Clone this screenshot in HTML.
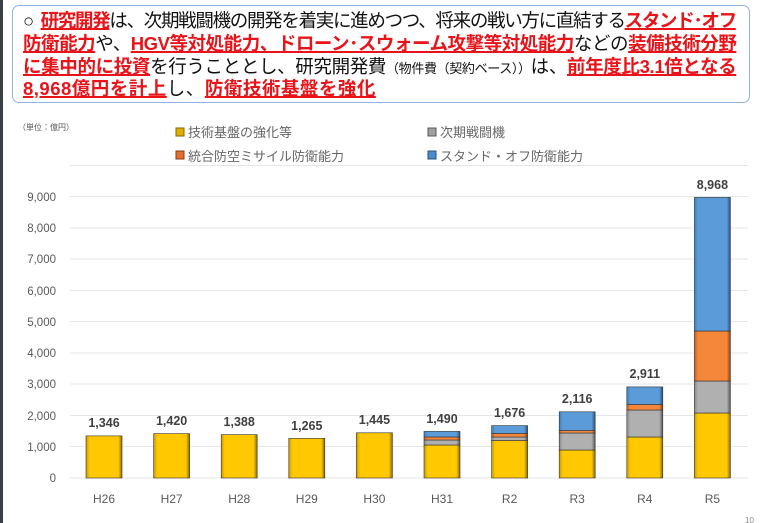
<!DOCTYPE html>
<html><head><meta charset="utf-8"><style>
html,body{margin:0;padding:0;background:#fff;}
body{width:760px;height:523px;position:relative;overflow:hidden;font-family:"Liberation Sans","Noto Sans CJK JP",sans-serif;}
.lb{position:absolute;left:0;top:0;width:3px;height:523px;background:#3a3f45;}
.box{position:absolute;left:12px;top:5px;width:738px;height:98px;border:1.5px solid #8fb4e0;border-radius:7px;box-sizing:border-box;}
.ln{position:absolute;left:23px;font-size:18.5px;line-height:22px;color:#111;white-space:nowrap;}
.r{color:#e8141a;font-weight:bold;text-decoration:underline;text-decoration-thickness:1.5px;}
.s{font-size:13px;}
svg{position:absolute;left:0;top:0;}
</style></head><body>
<div class="lb"></div>
<div class="box"></div>
<div class="ln" style="top:10px;letter-spacing:-1.3px">○&nbsp; <span class="r">研究開発</span>は、次期戦闘機の開発を着実に進めつつ、将来の戦い方に直結する<span class="r">スタンド･オフ</span></div>
<div class="ln" style="top:33px;letter-spacing:-0.45px"><span class="r">防衛能力</span>や、<span class="r">HGV等対処能力、ドローン･スウォーム攻撃等対処能力</span>などの<span class="r">装備技術分野</span></div>
<div class="ln" style="top:56px;letter-spacing:-0.35px"><span class="r">に集中的に投資</span>を行うこととし、研究開発費<span class="s">（物件費（契約ベース））</span>は、<span class="r">前年度比3.1倍となる</span></div>
<div class="ln" style="top:78px;letter-spacing:0.5px"><span class="r">8,968億円を計上</span>し、<span class="r">防衛技術基盤を強化</span></div>
<svg width="760" height="523" xmlns="http://www.w3.org/2000/svg" font-family="Liberation Sans, Noto Sans CJK JP, sans-serif">
<defs>
<linearGradient id="gy" x1="0" x2="1"><stop offset="0" stop-color="#c79a00"/><stop offset="0.1" stop-color="#ffc800"/><stop offset="0.9" stop-color="#ffc800"/><stop offset="1" stop-color="#8a6a00"/></linearGradient>
<linearGradient id="gg" x1="0" x2="1"><stop offset="0" stop-color="#8a8a8a"/><stop offset="0.1" stop-color="#b0b0b0"/><stop offset="0.9" stop-color="#b0b0b0"/><stop offset="1" stop-color="#555"/></linearGradient>
<linearGradient id="go" x1="0" x2="1"><stop offset="0" stop-color="#c85f1c"/><stop offset="0.1" stop-color="#f5873a"/><stop offset="0.9" stop-color="#f5873a"/><stop offset="1" stop-color="#8a3d10"/></linearGradient>
<linearGradient id="gb" x1="0" x2="1"><stop offset="0" stop-color="#3f7fc0"/><stop offset="0.1" stop-color="#5b9bd8"/><stop offset="0.9" stop-color="#5b9bd8"/><stop offset="1" stop-color="#2a4f7a"/></linearGradient>
</defs>
<text x="18" y="130" font-size="8" fill="#555">（単位：億円）</text>
<rect x="176" y="128" width="8" height="8" fill="#e0b000" stroke="#8a6a00" stroke-width="1"/><text x="188" y="137" font-size="13" fill="#666">技術基盤の強化等</text>
<rect x="176" y="151" width="8" height="8" fill="#e07030" stroke="#8a3d10" stroke-width="1"/><text x="188" y="161" font-size="13" fill="#666">統合防空ミサイル防衛能力</text>
<rect x="428" y="128" width="8" height="8" fill="#a0a0a0" stroke="#555" stroke-width="1"/><text x="440" y="137" font-size="13" fill="#666">次期戦闘機</text>
<rect x="428" y="151" width="8" height="8" fill="#4a8ad0" stroke="#2a4f7a" stroke-width="1"/><text x="440" y="161" font-size="13" fill="#666">スタンド・オフ防衛能力</text>
<g stroke="#e6e6e6" stroke-width="1">
<line x1="70" x2="748" y1="165.5" y2="165.5"/><line x1="70" x2="748" y1="196.5" y2="196.5"/><line x1="70" x2="748" y1="228" y2="228"/><line x1="70" x2="748" y1="259" y2="259"/><line x1="70" x2="748" y1="290.5" y2="290.5"/><line x1="70" x2="748" y1="321.5" y2="321.5"/><line x1="70" x2="748" y1="353" y2="353"/><line x1="70" x2="748" y1="384" y2="384"/><line x1="70" x2="748" y1="415.5" y2="415.5"/><line x1="70" x2="748" y1="446.5" y2="446.5"/><line x1="70" x2="748" y1="478" y2="478"/>
</g>
<g font-size="11.5" fill="#595959" text-anchor="end">
<text x="56" y="201">9,000</text><text x="56" y="232">8,000</text><text x="56" y="263">7,000</text><text x="56" y="295">6,000</text><text x="56" y="326">5,000</text><text x="56" y="357">4,000</text><text x="56" y="388">3,000</text><text x="56" y="420">2,000</text><text x="56" y="451">1,000</text><text x="56" y="482">0</text>
</g>
<g stroke="#333" stroke-width="0.6">
<rect x="86" y="435.9" width="36" height="42.1" fill="url(#gy)"/>
<rect x="153.6" y="433.6" width="36" height="44.4" fill="url(#gy)"/>
<rect x="221.2" y="434.6" width="36" height="43.4" fill="url(#gy)"/>
<rect x="288.8" y="438.4" width="36" height="39.6" fill="url(#gy)"/>
<rect x="356.4" y="432.8" width="36" height="45.2" fill="url(#gy)"/>
<rect x="424" y="445" width="36" height="33" fill="url(#gy)"/>
<rect x="424" y="440" width="36" height="5" fill="url(#gg)"/>
<rect x="424" y="437" width="36" height="3" fill="url(#go)"/>
<rect x="424" y="431.4" width="36" height="5.6" fill="url(#gb)"/>
<rect x="491.6" y="440.5" width="36" height="37.5" fill="url(#gy)"/>
<rect x="491.6" y="437" width="36" height="3.5" fill="url(#gg)"/>
<rect x="491.6" y="433.5" width="36" height="3.5" fill="url(#go)"/>
<rect x="491.6" y="425.6" width="36" height="7.9" fill="url(#gb)"/>
<rect x="559.2" y="450" width="36" height="28" fill="url(#gy)"/>
<rect x="559.2" y="433" width="36" height="17" fill="url(#gg)"/>
<rect x="559.2" y="430.5" width="36" height="2.5" fill="url(#go)"/>
<rect x="559.2" y="411.8" width="36" height="18.7" fill="url(#gb)"/>
<rect x="626.8" y="437" width="36" height="41" fill="url(#gy)"/>
<rect x="626.8" y="410" width="36" height="27" fill="url(#gg)"/>
<rect x="626.8" y="404.5" width="36" height="5.5" fill="url(#go)"/>
<rect x="626.8" y="386.9" width="36" height="17.6" fill="url(#gb)"/>
<rect x="694.4" y="413" width="36" height="65" fill="url(#gy)"/>
<rect x="694.4" y="381" width="36" height="32" fill="url(#gg)"/>
<rect x="694.4" y="331" width="36" height="50" fill="url(#go)"/>
<rect x="694.4" y="197.4" width="36" height="133.6" fill="url(#gb)"/>
</g>
<g font-size="12.5" font-weight="bold" fill="#404040" text-anchor="middle">
<text x="104" y="427">1,346</text><text x="171.6" y="425">1,420</text><text x="239.2" y="426">1,388</text><text x="306.8" y="430">1,265</text><text x="374.4" y="424">1,445</text><text x="442" y="423">1,490</text><text x="509.6" y="417">1,676</text><text x="577.2" y="403">2,116</text><text x="644.8" y="378">2,911</text><text x="712.4" y="189">8,968</text>
</g>
<g font-size="12" fill="#595959" text-anchor="middle">
<text x="104" y="503">H26</text><text x="171.6" y="503">H27</text><text x="239.2" y="503">H28</text><text x="306.8" y="503">H29</text><text x="374.4" y="503">H30</text><text x="442" y="503">H31</text><text x="509.6" y="503">R2</text><text x="577.2" y="503">R3</text><text x="644.8" y="503">R4</text><text x="712.4" y="503">R5</text>
</g>
<text x="745" y="523" font-size="8" fill="#888">10</text>
</svg>
</body></html>
